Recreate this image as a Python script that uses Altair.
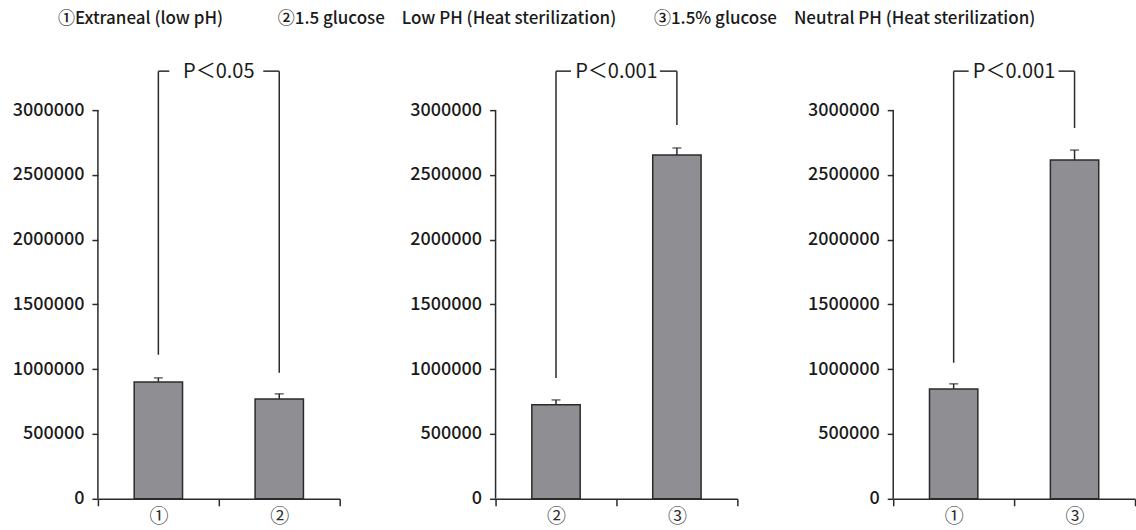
import altair as alt
import pandas as pd

# ---- data ----
TITLE = "①Extraneal (low pH)　　　 ②1.5 glucose　Low PH (Heat sterilization)　　 ③1.5% glucose　Neutral PH (Heat sterilization)"

p1_cats = ["①", "②"]
p1_means = [902000, 771000]
p1_errs = [31000, 39000]

p2_cats = ["②", "③"]
p2_means = [725000, 2653000]
p2_errs = [38000, 54000]

p3_cats = ["①", "③"]
p3_means = [848000, 2614000]
p3_errs = [39000, 77000]

p_labels = ["P＜0.05", "P＜0.001", "P＜0.001"]
bracket_top = [3300000, 3300000, 3300000]
bracket_left_bottom = [1111000, 933000, 1049000]
bracket_right_bottom = [972000, 2884000, 2861000]

y_ticks = [0, 500000, 1000000, 1500000, 2000000, 2500000, 3000000]
y_max = 3400000

FONT = "Noto Sans CJK JP"
INK = "#2b2b2b"
BAR_FILL = "#8e8e93"


def panel(cats, means, errs, label, top, lb, rb, width, seg_l, seg_r):
    bars = pd.DataFrame({
        "cat": cats,
        "mean": means,
        "hi": [m + e for m, e in zip(means, errs)],
    })
    xscale = alt.Scale(domain=cats, paddingInner=0, paddingOuter=0)
    yscale = alt.Scale(domain=[0, y_max], nice=False, zero=True)
    xax = alt.Axis(title=None, labelAngle=0, tickBand="extent", labelFont=FONT,
                   labelFontSize=19, labelColor=INK, domainColor=INK, tickColor=INK,
                   domainWidth=1.5, tickWidth=1.5, tickSize=7, labelPadding=2, grid=False)
    yax = alt.Axis(title=None, values=y_ticks, format="d", domain=False, labelFont=FONT,
                   labelFontSize=18, labelFontWeight=500, labelColor="#1a1a1a",
                   tickColor=INK, tickWidth=1.5,
                   tickSize=6, labelPadding=8, grid=False, minExtent=86, maxExtent=86)

    base = alt.Chart(bars)
    bar = base.mark_bar(width=alt.RelativeBandSize(0.4), fill=BAR_FILL, stroke=INK,
                        strokeWidth=1.5).encode(
        x=alt.X("cat:N", scale=xscale, axis=xax, sort=cats),
        y=alt.Y("mean:Q", scale=yscale, axis=yax),
    )
    stem = base.mark_rule(color=INK, strokeWidth=1.5).encode(
        x=alt.X("cat:N", title=None), y=alt.Y("mean:Q", title=None), y2="hi:Q")
    cap = base.mark_tick(color=INK, size=9, thickness=1.5).encode(
        x=alt.X("cat:N", title=None), y=alt.Y("hi:Q", title=None))

    # y-axis line from 0 to the highest tick
    axis_df = pd.DataFrame({"cat": [cats[0]], "y0": [y_ticks[0]], "y1": [y_ticks[-1]]})
    axis_line = alt.Chart(axis_df).mark_rule(color=INK, strokeWidth=1.5).encode(
        x=alt.X("cat:N", bandPosition=0, title=None),
        y=alt.Y("y0:Q", title=None), y2="y1:Q")

    # significance bracket
    vert_df = pd.DataFrame({"cat": cats, "bottom": [lb, rb], "top": [top, top]})
    verts = alt.Chart(vert_df).mark_rule(color=INK, strokeWidth=1.5).encode(
        x=alt.X("cat:N", title=None), y=alt.Y("bottom:Q", title=None), y2="top:Q")
    left_df = pd.DataFrame({"cat": [cats[0]], "top": [top]})
    right_df = pd.DataFrame({"cat": [cats[1]], "top": [top]})
    seg1 = alt.Chart(left_df).mark_rule(color=INK, strokeWidth=1.5, x2Offset=seg_l).encode(
        x=alt.X("cat:N", title=None), x2=alt.X2("cat:N"), y=alt.Y("top:Q", title=None))
    seg2 = alt.Chart(right_df).mark_rule(color=INK, strokeWidth=1.5, xOffset=-seg_r).encode(
        x=alt.X("cat:N", title=None), x2=alt.X2("cat:N"), y=alt.Y("top:Q", title=None))
    txt_df = pd.DataFrame({"cat": [cats[0]], "top": [top], "label": [label]})
    txt = alt.Chart(txt_df).mark_text(font=FONT, fontSize=20, color="#1a1a1a",
                                      baseline="middle", align="center", dy=1).encode(
        x=alt.X("cat:N", bandPosition=1, title=None), y=alt.Y("top:Q", title=None),
        text="label:N")

    return alt.layer(bar, stem, cap, axis_line, verts, seg1, seg2, txt).properties(
        width=width, height=441)


p1 = panel(p1_cats, p1_means, p1_errs, p_labels[0], bracket_top[0],
           bracket_left_bottom[0], bracket_right_bottom[0], 242, 11, 16)
p2 = panel(p2_cats, p2_means, p2_errs, p_labels[1], bracket_top[1],
           bracket_left_bottom[1], bracket_right_bottom[1], 242, 15, 17)
p3 = panel(p3_cats, p3_means, p3_errs, p_labels[2], bracket_top[2],
           bracket_left_bottom[2], bracket_right_bottom[2], 242, 15, 16)

chart = alt.hconcat(p1, p2, p3, spacing=156, bounds="flush").properties(
    title=alt.TitleParams(TITLE, anchor="start", font=FONT, fontSize=17,
                          fontWeight=500, color="#1a1a1a", dx=46, offset=30),
    padding={"left": 12, "top": 10, "right": 0, "bottom": 0},
    background="white",
).configure_view(strokeWidth=0, stroke="transparent")

chart.save("out.html", embed_options={"renderer": "svg", "actions": False})
